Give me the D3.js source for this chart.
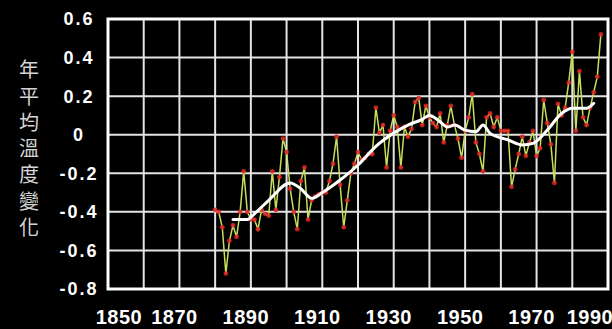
<!DOCTYPE html>
<html>
<head>
<meta charset="utf-8">
<script src="https://cdn.jsdelivr.net/npm/d3@7"></script>
<style>
  html, body { margin: 0; padding: 0; background: #000; }
  svg { display: block; }
</style>
</head>
<body>
<div id="chart"></div>
<script>
// yearly anomaly values, 1880 onward
let firstYear = 1880;
let anomaly = [
  -0.39, -0.40, -0.48, -0.72, -0.55, -0.47, -0.53, -0.40, -0.19, -0.40,
  -0.44, -0.44, -0.49, -0.39, -0.41, -0.42, -0.19, -0.39, -0.22, -0.02,
  -0.09, -0.28, -0.40, -0.49, -0.24, -0.17, -0.44, -0.34, -0.32, -0.31,
  -0.30, -0.30, -0.24, -0.15, -0.01, -0.26, -0.48, -0.34, -0.20, -0.15,
  -0.09, -0.13, -0.12, -0.10, -0.10, 0.14, 0.01, 0.05, -0.17, 0.02,
  0.10, 0.04, -0.17, 0.04, -0.01, 0.03, 0.17, 0.19, 0.05, 0.15,
  0.09, 0.06, 0.04, 0.11, -0.04, 0.05, 0.15, 0.05, -0.02, -0.12,
  0.02, 0.09, 0.21, -0.04, -0.10, -0.19, 0.09, 0.11, 0.04, 0.09,
  0.02, 0.02, 0.02, -0.27, -0.18, -0.10, -0.01, -0.11, -0.04, 0.02,
  -0.11, -0.07, 0.18, 0.06, -0.05, -0.25, 0.16, 0.10, 0.14, 0.27,
  0.43, 0.02, 0.33, 0.09, 0.05, 0.14, 0.22, 0.30, 0.52
];

// smoothed curve (white)
let smoothYears = [1885, 1889, 1891, 1895, 1901, 1904, 1907, 1910, 1915, 1920,
  1925, 1931, 1934, 1938, 1940, 1943, 1945, 1947, 1950, 1953,
  1955, 1957, 1962, 1966, 1969, 1973, 1977, 1980, 1984, 1986];
let smoothValues = [-0.44, -0.44, -0.41, -0.34, -0.25, -0.28, -0.33, -0.30, -0.235, -0.157,
  -0.06, 0.02, 0.05, 0.08, 0.10, 0.067, 0.04, 0.05, 0.024, 0.016,
  0.05, 0.007, -0.027, -0.053, -0.045, 0.024, 0.11, 0.137, 0.137, 0.163];

let gridYears = [1860, 1870, 1880, 1890, 1900, 1910, 1920, 1930, 1940, 1950, 1960, 1970, 1980];
let gridValues = [0.4, 0.2, 0, -0.2, -0.4, -0.6];
let yTickValues = [0.6, 0.4, 0.2, 0, -0.2, -0.4, -0.6, -0.8];
let yTickLabels = ["0.6", "0.4", "0.2", "0", "-0.2", "-0.4", "-0.6", "-0.8"];
let xTickYears = [1850, 1870, 1890, 1910, 1930, 1950, 1970, 1990];
let yTitle = "年平均溫度變化";

let w = 612;
let h = 329;

let x = d3.scaleLinear().domain([1850, 1990]).range([108, 608]);
let y = d3.scaleLinear().domain([-0.8, 0.6]).range([289, 19]);

let svg = d3.select("#chart")
  .append("svg")
  .attr("width", w)
  .attr("height", h);

svg.append("rect")
  .attr("width", w)
  .attr("height", h)
  .attr("fill", "#000");

// grid
svg.append("g")
  .selectAll("line")
  .data(gridYears)
  .enter()
  .append("line")
  .attr("x1", d => x(d))
  .attr("x2", d => x(d))
  .attr("y1", y(0.6))
  .attr("y2", y(-0.8))
  .attr("stroke", "#e4e4e4")
  .attr("stroke-width", 2);

svg.append("g")
  .selectAll("line")
  .data(gridValues)
  .enter()
  .append("line")
  .attr("x1", x(1850))
  .attr("x2", x(1990))
  .attr("y1", d => y(d))
  .attr("y2", d => y(d))
  .attr("stroke", "#e4e4e4")
  .attr("stroke-width", 2);

// frame
svg.append("rect")
  .attr("x", x(1850))
  .attr("y", y(0.6))
  .attr("width", x(1990) - x(1850))
  .attr("height", y(-0.8) - y(0.6))
  .attr("fill", "none")
  .attr("stroke", "#fff")
  .attr("stroke-width", 3);

// y tick labels
svg.append("g")
  .selectAll("text")
  .data(yTickValues)
  .enter()
  .append("text")
  .attr("x", 79)
  .attr("y", d => y(d))
  .attr("dy", "0.36em")
  .attr("text-anchor", "middle")
  .attr("fill", "#fff")
  .attr("font-family", "Liberation Sans, Arial, sans-serif")
  .attr("font-weight", "bold")
  .attr("font-size", 18)
  .attr("letter-spacing", 2)
  .text((d, i) => yTickLabels[i]);

// x tick labels, sat a little left of their grid line, kept inside the page
svg.append("g")
  .selectAll("text")
  .data(xTickYears)
  .enter()
  .append("text")
  .attr("x", d => Math.min(590, Math.max(119, x(d) - 5)))
  .attr("y", 324)
  .attr("text-anchor", "middle")
  .attr("fill", "#fff")
  .attr("font-family", "Liberation Sans, Arial, sans-serif")
  .attr("font-weight", "bold")
  .attr("font-size", 20)
  .attr("letter-spacing", 0.5)
  .text(d => d);

// y title, one character per row
svg.append("g")
  .selectAll("text")
  .data(Array.from(yTitle))
  .enter()
  .append("text")
  .attr("x", 29)
  .attr("y", (d, i) => 70 + i * 26.3)
  .attr("dy", "0.36em")
  .attr("text-anchor", "middle")
  .attr("fill", "#d4d4d4")
  .attr("font-family", "Noto Sans CJK TC, sans-serif")
  .attr("font-size", 20)
  .text(d => d);

let series = anomaly.map((v, i) => ({ year: firstYear + i, value: v }));

let line = d3.line()
  .x(d => x(d.year))
  .y(d => y(d.value));

svg.append("path")
  .datum(series)
  .attr("fill", "none")
  .attr("stroke", "#c6e05c")
  .attr("stroke-width", 1.5)
  .attr("d", line);

svg.append("g")
  .selectAll("circle")
  .data(series)
  .enter()
  .append("circle")
  .attr("cx", d => x(d.year))
  .attr("cy", d => y(d.value))
  .attr("r", 2.4)
  .attr("fill", "#e02424")
  .attr("opacity", 0.85);

let smooth = smoothYears.map((yr, i) => ({ year: yr, value: smoothValues[i] }));

svg.append("path")
  .datum(smooth)
  .attr("fill", "none")
  .attr("stroke", "#fff")
  .attr("stroke-width", 3)
  .attr("stroke-linecap", "round")
  .attr("d", line.curve(d3.curveMonotoneX));
</script>
</body>
</html>
